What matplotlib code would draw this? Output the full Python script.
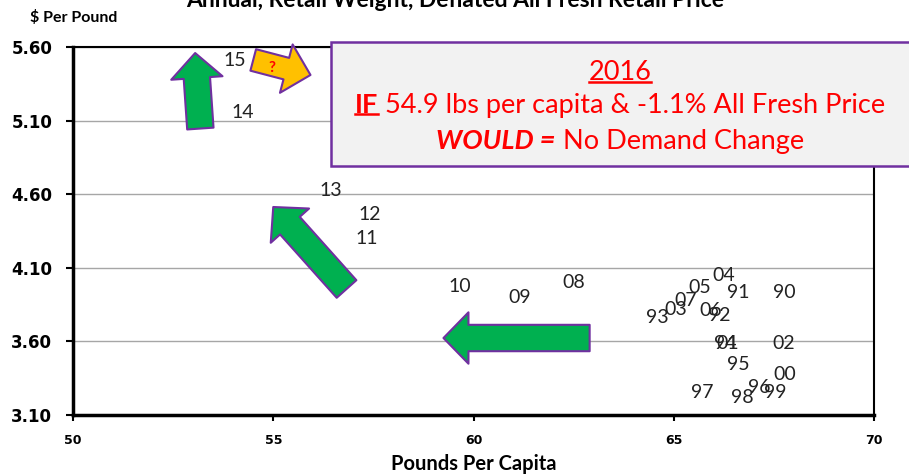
import matplotlib
matplotlib.use('Agg')
import matplotlib.pyplot as plt
from matplotlib.patches import Rectangle
from matplotlib.lines import Line2D

# === Data ===
years = ['90', '91', '92', '93', '94', '95', '96', '97', '98', '99', '00', '01', '02',
         '03', '04', '05', '06', '07', '08', '09', '10', '11', '12', '13', '14', '15']
pounds = [67.75, 66.60, 66.13, 64.58, 66.28, 66.60, 67.13, 65.70, 66.70, 67.53, 67.78, 66.35, 67.75,
          65.05, 66.25, 65.65, 65.93, 65.30, 62.50, 61.15, 59.65, 57.33, 57.40, 56.43, 54.25, 54.05]
price = [3.929, 3.929, 3.773, 3.759, 3.589, 3.446, 3.290, 3.250, 3.216, 3.250, 3.372, 3.589, 3.589,
         3.820, 4.051, 3.963, 3.813, 3.881, 3.997, 3.895, 3.970, 4.296, 4.465, 4.628, 5.158, 5.505]

y_ticks = [3.10, 3.60, 4.10, 4.60, 5.10, 5.60]
x_ticks = [50, 55, 60, 65, 70]

# arrows: (tail x, tail y, tip x, tip y) in data units
green_arrows = [(53.18, 5.046, 53.05, 5.559),
                (56.83, 3.956, 55.00, 4.513),
                (62.90, 3.623, 59.25, 3.623)]
orange_arrow = (54.50, 5.512, 55.93, 5.410)

GREEN = '#00b050'
ORANGE = '#ffc000'
PURPLE = '#7030a0'
body = 'Lato'

W, H = 909, 475
fig = plt.figure(figsize=(W / 100, H / 100), dpi=100)
ax = fig.add_axes([73 / W, 1 - 415 / H, 801 / W, 368 / H])

# year labels stand in for the points
for yr, x, y in zip(years, pounds, price):
    ax.text(x, y, yr, ha='center', va='center', fontsize=14, family=body, color='#222222')

ax.set_xlim(50, 70)
ax.set_ylim(3.10, 5.60)
ax.set_xticks(x_ticks)
ax.set_yticks(y_ticks)
ax.set_xticklabels([str(v) for v in x_ticks], fontweight='bold', fontsize=9)
ax.set_yticklabels([f'{v:.2f}' for v in y_ticks], fontweight='bold', fontsize=12)
ax.tick_params(axis='y', direction='out', length=5, width=1.5, pad=10)
ax.tick_params(axis='x', direction='out', length=4, width=1.5, pad=10)
ax.grid(axis='y', color='#a6a6a6', linewidth=1)
ax.set_axisbelow(True)
for side in ['left', 'bottom']:
    ax.spines[side].set_linewidth(2.5)
for side in ['top', 'right']:
    ax.spines[side].set_linewidth(1.5)

ax.set_xlabel('Pounds Per Capita', family=body, fontweight='bold', fontsize=14.5, labelpad=5)
fig.text(30 / W, 1 - 18 / H, '$ Per Pound', family=body, fontweight='bold', fontsize=11.5,
         ha='left', va='center')
fig.text(455 / W, 1 - 7 / H, 'Annual, Retail Weight, Deflated All Fresh Retail Price',
         family=body, fontweight='bold', fontsize=16.5, ha='center', va='baseline')

# block arrows (widths in points)
for tx, ty, hx, hy in green_arrows:
    ax.annotate('', xy=(hx, hy), xytext=(tx, ty),
                arrowprops=dict(arrowstyle='simple,head_length=18,head_width=37,tail_width=19',
                                mutation_scale=1, fc=GREEN, ec=PURPLE, lw=1.5,
                                shrinkA=0, shrinkB=0))
tx, ty, hx, hy = orange_arrow
ax.annotate('', xy=(hx, hy), xytext=(tx, ty),
            arrowprops=dict(arrowstyle='simple,head_length=18,head_width=36,tail_width=16',
                            mutation_scale=1, fc=ORANGE, ec=PURPLE, lw=1.5,
                            shrinkA=0, shrinkB=0))
ax.text(54.97, 5.46, '?', color='red', fontweight='bold', fontsize=11, family=body,
        ha='center', va='center')

# text box
fig.patches.append(Rectangle((331 / W, 1 - 166 / H), 0.7, 124 / H, transform=fig.transFigure,
                             facecolor='#f2f2f2', edgecolor=PURPLE, linewidth=1.8, zorder=5))

renderer = fig.canvas.get_renderer()


def rich_line(parts, xc, yc, size):
    texts = []
    for s, kw in parts:
        texts.append(fig.text(0, yc, s, fontsize=size, color='red', family=body,
                              ha='left', va='center', zorder=6, **kw))
    widths = [t.get_window_extent(renderer).width for t in texts]
    x0 = xc - sum(widths) / 2
    for t, w in zip(texts, widths):
        t.set_x(x0 / W)
        x0 += w
    return texts


def underline(t, drop=3):
    bb = t.get_window_extent(renderer)
    y = bb.y0 + drop
    fig.lines.append(Line2D([bb.x0 / W, bb.x1 / W], [y / H, y / H], transform=fig.transFigure,
                            color='red', linewidth=1.8, zorder=7))


cx = 620
t2016 = rich_line([('2016', {})], cx, 1 - 72 / H, 19.5)
t_if = rich_line([('IF', {'fontweight': 'bold'}),
                  (' 54.9 lbs per capita & -1.1% All Fresh Price', {})], cx, 1 - 105 / H, 19.5)
rich_line([('WOULD =', {'fontweight': 'bold', 'style': 'italic'}),
           (' No Demand Change', {})], cx, 1 - 141 / H, 19.5)
underline(t2016[0])
underline(t_if[0])

plt.savefig('out.png', dpi=100)
